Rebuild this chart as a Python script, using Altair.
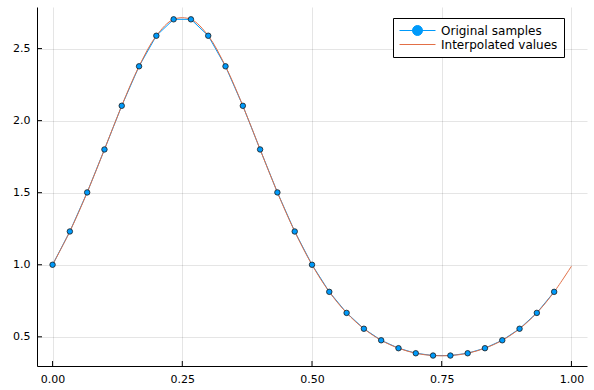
import altair as alt
import pandas as pd

# Sample positions and values
x_samples = [0.0, 0.0333, 0.0667, 0.1, 0.1333, 0.1667, 0.2, 0.2333, 0.2667, 0.3,
             0.3333, 0.3667, 0.4, 0.4333, 0.4667, 0.5, 0.5333, 0.5667, 0.6, 0.6333,
             0.6667, 0.7, 0.7333, 0.7667, 0.8, 0.8333, 0.8667, 0.9, 0.9333, 0.9667]
y_samples = [1.0, 1.231, 1.502, 1.800, 2.103, 2.377, 2.589, 2.703, 2.703, 2.589,
             2.377, 2.103, 1.800, 1.502, 1.231, 1.0, 0.812, 0.666, 0.556, 0.476,
             0.421, 0.386, 0.370, 0.370, 0.386, 0.421, 0.476, 0.556, 0.666, 0.812]
# last point of the interpolated curve
x_end = [1.0]
y_end = [0.99]

x_ticks = [0.0, 0.25, 0.5, 0.75, 1.0]
y_ticks = [0.5, 1.0, 1.5, 2.0, 2.5]

series_names = ["Original samples", "Interpolated values"]
colors = ["#009AFA", "#E26F46"]

samples = pd.DataFrame({"x": x_samples, "y": y_samples, "series": series_names[0]})
interp = pd.DataFrame({"x": x_samples + x_end, "y": y_samples + y_end, "series": series_names[1]})
xt = pd.DataFrame({"x": x_ticks})
yt = pd.DataFrame({"y": y_ticks})

W, H = 550, 359
xscale = alt.Scale(domain=[-0.03, 1.03], nice=False, zero=False)
yscale = alt.Scale(domain=[0.2975, 2.7885], nice=False, zero=False)

# legend glyphs (unit = 6 px with symbolSize 144)
legend_path_samples = ("M-1,0H5 M2.83,0A0.83,0.83 0 1,1 1.17,0"
                       "A0.83,0.83 0 1,1 2.83,0Z")
legend_path_interp = "M-1,0H5"


def make_legend():
    return alt.Legend(
        title=None, orient="none", legendX=356, legendY=11,
        symbolSize=144, symbolStrokeWidth=1, symbolOpacity=1,
        labelFont="DejaVu Sans", labelFontSize=12, labelColor="black", labelOffset=29,
        strokeColor="black", fillColor="white", padding=6, rowPadding=0,
    )


stroke_enc = alt.Stroke("series:N", scale=alt.Scale(domain=series_names, range=colors),
                        legend=make_legend())
fill_enc = alt.Fill("series:N", scale=alt.Scale(domain=series_names,
                                                range=[colors[0], "transparent"]),
                    legend=make_legend())
shape_enc = alt.Shape("series:N", scale=alt.Scale(domain=series_names,
                                                  range=[legend_path_samples, legend_path_interp]),
                      legend=make_legend())

X = alt.X("x:Q", scale=xscale, title=None,
          axis=alt.Axis(values=x_ticks, format=".2f"))
Y = alt.Y("y:Q", scale=yscale, title=None,
          axis=alt.Axis(values=y_ticks, format=".1f"))

blue_line = alt.Chart(samples).mark_line(strokeWidth=1).encode(x=X, y=Y, stroke=stroke_enc)
orange_line = alt.Chart(interp).mark_line(strokeWidth=1, interpolate="catmull-rom").encode(
    x=X, y=Y, stroke=stroke_enc)
points = alt.Chart(samples).mark_point(
    filled=True, shape="circle", size=30, fill="#009AFA", stroke="#1a1a1a",
    strokeWidth=0.8, opacity=1).encode(x=X, y=Y)

# empty layer that only feeds the legend
legend_layer = alt.Chart(samples).mark_point(opacity=1, strokeWidth=1).encode(
    x=X, y=Y, stroke=stroke_enc, fill=fill_enc, shape=shape_enc
).transform_filter("false")

# inward-pointing tick marks
xticks = alt.Chart(xt).mark_rule(color="black", strokeWidth=1).encode(
    x=X, y=alt.value(H), y2=alt.value(H - 5))
yticks = alt.Chart(yt).mark_rule(color="black", strokeWidth=1).encode(
    y=Y, x=alt.value(0), x2=alt.value(5))

chart = alt.layer(blue_line, orange_line, points, xticks, yticks, legend_layer).properties(
    width=W, height=H,
    autosize=alt.AutoSizeParams(type="none"),
    padding={"left": 37, "top": 7, "right": 7, "bottom": 24},
).configure_view(stroke=None).configure_axis(
    domainColor="black", domainWidth=1, ticks=False,
    grid=True, gridColor="black", gridOpacity=0.1,
    labelFont="DejaVu Sans", labelFontSize=11, labelColor="black", labelPadding=7,
)

chart.save("out.html", embed_options={"renderer": "svg", "actions": False})
